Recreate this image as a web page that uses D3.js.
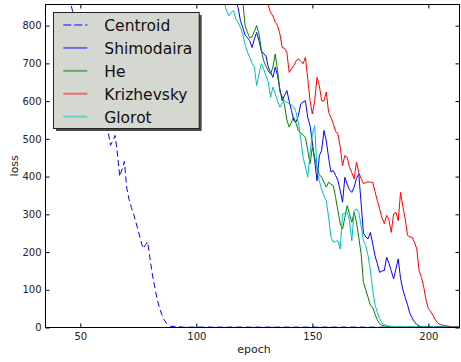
<!DOCTYPE html>
<html><head><meta charset="utf-8">
<script src="https://cdn.jsdelivr.net/npm/d3@7"></script>
<style>body{margin:0;background:#fff} svg{display:block} text{font-family:"DejaVu Sans",sans-serif}</style>
</head><body><svg id="c" width="461" height="362"></svg>
<script>
const xTicks = [50, 100, 150, 200];
const yTicks = [0, 100, 200, 300, 400, 500, 600, 700, 800];
const seriesNames = ["Centroid", "Shimodaira", "He", "Krizhevsky", "Glorot"];
const seriesColors = ["#0000ff", "#0000ff", "#008000", "#ff0000", "#00bfbf"];
const legendColors = ["#6b6bf6", "#6b6bf6", "#6aa66a", "#ee6b6b", "#68cfcc"];

const centroidStart = 40;
const centroidLoss = [1050,1020,990,955,920,885,855,830,805,780,
  760,735,715,695,675,655,640,620,600,580,
  560,540,518,483,495,509,460,400,420,440,
  370,340,318,300,278,255,232,209,218,227,
  185,142,110,78,55,36,22,12,6,3,
  3,2,2,2,1,1,2,1,1,1,1,1,
  1,1,1,1,1,1,1,1,1,1, 1,1,1,1,1,1,1,1,1,1,
  1,1,1,1,1,1,1,1,1,1, 1,1,1,1,1,1,1,1,1,1,
  1,1,1,1,1,1,1,1,1,1, 1,1,1,1,1,1,1,1,1,1,
  1,1,1,1,1,1,1,1,1,1, 1,1,1,1,1,1,1,1,1,1,
  1,1,1,1,1,1,1,1,1,1, 1,1,1,1,1,1,1,1,1,1,
  1,1,1,1,1,1,1,1,1,1, 1,1];

const shimodairaStart = 115;
const shimodairaLoss = [950,900,870,848,813,795,775,768,760,742,
  765,782,760,734,725,720,690,676,663,690,
  668,632,601,615,628,600,575,548,545,562,
  593,598,601,557,535,490,442,389,455,470,
  522,495,450,412,416,403,390,363,332,398,
  380,365,358,372,395,407,330,250,240,235,
  252,222,190,169,146,150,151,186,170,150,
  129,155,182,130,100,80,60,38,25,15,
  8,4,2,1,1,1,1,1,1,1,1,1,1,1,1,1,1,1,1];

const heStart = 118;
const heLoss = [950,900,866,800,782,768,770,785,800,778,
  734,707,692,680,672,690,725,681,625,612,
  590,550,531,545,557,540,522,515,510,504,
  470,434,478,450,425,405,398,385,372,385,
  380,376,345,310,275,261,292,323,301,279,
  305,279,239,195,120,100,80,58,54,35,
  20,10,6,4,3,2,2,1,1,1,1,1,1,1,1,1,1,1,1,1,
  1,1,1,1,1,1,1,1,1,1,1,1,1,1,1,1];

const krizhevskyStart = 129;
const krizhevskyLoss = [920,880,853,835,826,809,800,778,742,740,
  729,676,685,694,707,712,705,699,716,660,
  600,566,601,663,641,601,600,624,570,557,
  540,520,513,478,429,456,451,425,410,394,
  438,411,395,381,384,386,385,385,360,336,
  314,290,275,297,285,252,301,305,283,358,
  320,288,244,240,239,226,208,150,133,107,
  72,50,42,32,20,12,8,6,5,4,
  3,2,2,1,1];

const glorotStart = 110;
const glorotLoss = [920,890,862,840,826,835,840,818,808,795,
  778,750,730,716,700,690,641,672,699,685,
  668,650,610,637,620,600,584,595,601,597,
  593,590,584,570,540,500,451,425,398,460,
  513,535,416,389,365,350,336,292,240,226,
  228,230,208,301,303,305,283,230,310,314,
  305,270,230,217,190,151,100,60,40,23,
  12,8,5,4,3,2,2,1,1,1,1,1,1,1,1,1,1,1,1,1,
  1,1,1,1,1,1,1,1,1,1,1,1,1,1];

const seriesStarts = [centroidStart, shimodairaStart, heStart, krizhevskyStart, glorotStart];
const seriesLosses = [centroidLoss, shimodairaLoss, heLoss, krizhevskyLoss, glorotLoss];

const L = 45.5, R = 459.5, T = 4.5, B = 327.5;
const x = d3.scaleLinear().domain([35, 213.4]).range([L, R]);
const y = d3.scaleLinear().domain([0, 856]).range([B, T]);

const svg = d3.select("#c");
svg.append("defs").append("clipPath").attr("id", "clip")
  .append("rect").attr("x", L).attr("y", T).attr("width", R - L).attr("height", B - T);

const line = d3.line().x(d => x(d[0])).y(d => y(d[1]));
const plot = svg.append("g").attr("clip-path", "url(#clip)");
seriesLosses.forEach((vals, i) => {
  const pts = vals.map((v, j) => [seriesStarts[i] + j, v]);
  plot.append("path").datum(pts)
    .attr("d", line)
    .attr("fill", "none")
    .attr("stroke", seriesColors[i])
    .attr("stroke-width", 1)
    .attr("stroke-dasharray", i === 0 ? "6,3.5" : null);
});

function styleAxis(g) {
  g.selectAll(".domain").remove();
  g.selectAll("line").attr("stroke", "#000");
  g.selectAll("text").attr("fill", "#222").style("font-size", "10px").style("font-family", "DejaVu Sans");
}
svg.append("g").attr("transform", `translate(${L},0)`)
  .call(d3.axisLeft(y).tickValues(yTicks).tickSize(-4).tickPadding(4).tickFormat(d3.format("d"))).call(styleAxis);
svg.append("g").attr("transform", `translate(${R},0)`)
  .call(d3.axisRight(y).tickValues(yTicks).tickSize(-4).tickFormat("")).call(styleAxis);
svg.append("g").attr("transform", `translate(0,${B})`)
  .call(d3.axisBottom(x).tickValues(xTicks).tickSize(-4).tickPadding(5).tickFormat(d3.format("d"))).call(styleAxis);
svg.append("g").attr("transform", `translate(0,${T})`)
  .call(d3.axisTop(x).tickValues(xTicks).tickSize(-4).tickFormat("")).call(styleAxis);

svg.append("rect").attr("x", L).attr("y", T).attr("width", R - L).attr("height", B - T)
  .attr("fill", "none").attr("stroke", "#000").attr("stroke-width", 1);

svg.append("text").attr("x", 254).attr("y", 352.5).attr("text-anchor", "middle")
  .attr("fill", "#222").style("font-size", "11px").text("epoch");
svg.append("text").attr("transform", "translate(18.3,165.8) rotate(-90)").attr("text-anchor", "middle")
  .attr("fill", "#222").style("font-size", "11px").text("loss");

// legend
const lg = svg.append("g");
lg.append("rect").attr("x", 56).attr("y", 15).attr("width", 145.7).attr("height", 116).attr("fill", "#4a4a4a");
lg.append("rect").attr("x", 53.5).attr("y", 12.5).attr("width", 145.7).attr("height", 116)
  .attr("fill", "#d5d8d1").attr("stroke", "#222").attr("stroke-width", 1);
seriesNames.forEach((name, i) => {
  const cy = 25 + i * 22.9;
  lg.append("line").attr("x1", 63.3).attr("x2", 87.3).attr("y1", cy).attr("y2", cy)
    .attr("stroke", legendColors[i]).attr("stroke-width", 2)
    .attr("stroke-dasharray", i === 0 ? "8,3" : null);
  lg.append("text").attr("x", 104.3).attr("y", cy + 6).attr("fill", "#111")
    .style("font-size", "15.5px").text(name);
});
</script></body></html>
